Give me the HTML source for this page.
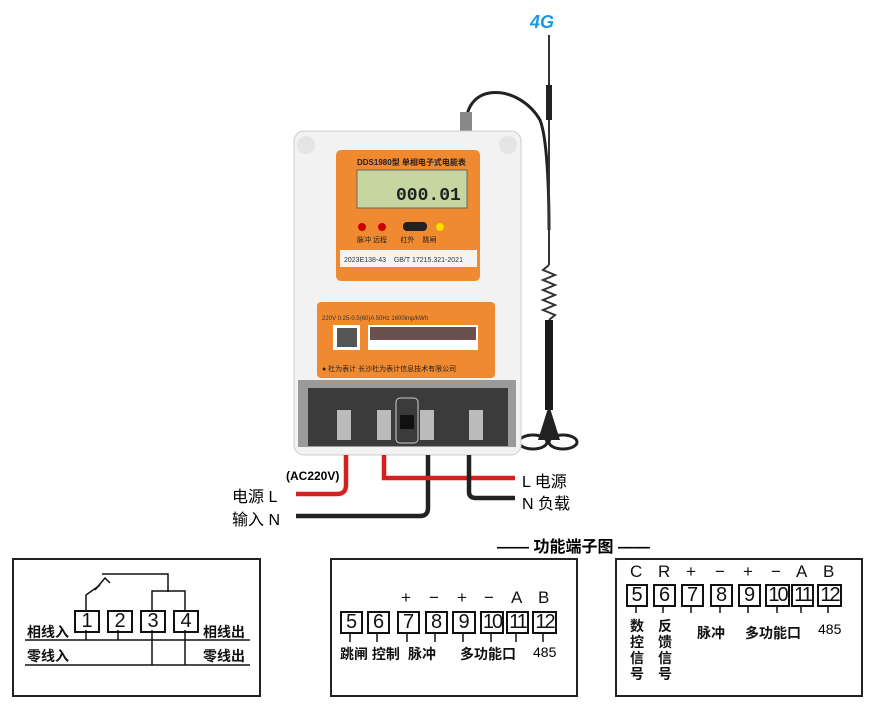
<!DOCTYPE html>
<html><head><meta charset="utf-8"><style>
body{margin:0;width:884px;height:710px;background:#fff;position:relative;overflow:hidden;font-family:"Liberation Sans","Noto Sans CJK SC",sans-serif;}
.a{position:absolute;white-space:nowrap;}
.box{position:absolute;border:2px solid #222;background:#fff;}
.t{position:absolute;border:2px solid #111;font-size:20px;line-height:19px;text-align:center;color:#111;}
.s{position:absolute;font-size:17px;color:#111;}
.l{position:absolute;font-size:14px;font-weight:bold;color:#111;}
</style></head><body>

<svg class="a" style="left:0;top:0" width="884" height="540">
 <path d="M466 125 C466 80 520 85 540 120 C548 140 549 200 549 230" stroke="#222" stroke-width="3" fill="none"/>
 <rect x="460" y="112" width="12" height="22" fill="#888"/>
 <line x1="549" y1="35" x2="549" y2="265" stroke="#333" stroke-width="2"/>
 <rect x="546" y="85" width="6" height="35" fill="#222"/>
 <path d="M549 265 l-6 5 l12 5 l-12 5 l12 5 l-12 5 l12 5 l-12 5 l12 5 l-12 5 l12 5 l-6 5" stroke="#333" stroke-width="2" fill="none"/>
 <rect x="545" y="320" width="8" height="90" fill="#1a1a1a"/>
 <path d="M549 405 L538 440 L560 440 Z" fill="#222"/>
 <ellipse cx="533" cy="442" rx="14" ry="7" stroke="#222" stroke-width="3" fill="none"/>
 <ellipse cx="563" cy="442" rx="14" ry="7" stroke="#222" stroke-width="3" fill="none"/>
 <text x="530" y="28" font-size="18" font-weight="bold" font-style="italic" fill="#1a9ae0" font-family="Liberation Sans">4G</text>
 <rect x="294" y="131" width="227" height="324" rx="10" fill="#f2f2f2" stroke="#ccc"/>
 <circle cx="306" cy="145" r="9" fill="#e4e4e4"/><circle cx="508" cy="145" r="9" fill="#e4e4e4"/>
 <rect x="336" y="150" width="144" height="131" rx="5" fill="#f08a30"/>
 <rect x="357" y="170" width="110" height="38" fill="#c5d6a0" stroke="#666"/>
 <text x="396" y="200" font-size="18" font-family="Liberation Mono" font-weight="bold" fill="#222">000.01</text>
 <text x="357" y="165" font-size="8" fill="#222" font-weight="bold">DDS1980型 单相电子式电能表</text>
 <circle cx="362" cy="227" r="4" fill="#c00"/><circle cx="382" cy="227" r="4" fill="#c00"/>
 <rect x="403" y="222" width="24" height="9" rx="4" fill="#222"/><circle cx="440" cy="227" r="4" fill="#fd0"/>
 <text x="357" y="242" font-size="7" fill="#222">脉冲 远程 &#160;&#160;&#160;&#160;&#160;&#160;红外 &#160;&#160;&#160;跳闸</text>
 <rect x="340" y="250" width="137" height="17" fill="#f4f4f4"/>
 <text x="344" y="262" font-size="7" fill="#333">2023E138-43 &#160;&#160;&#160;GB/T 17215.321-2021</text>
 <rect x="317" y="302" width="178" height="76" rx="4" fill="#f08a30"/>
 <text x="322" y="320" font-size="6" fill="#333">220V 0.25-0.5(60)A 50Hz 1600imp/kWh</text>
 <rect x="333" y="325" width="27" height="25" fill="#fff"/><rect x="337" y="328" width="20" height="19" fill="#555"/>
 <rect x="368" y="325" width="110" height="25" fill="#fff"/><rect x="370" y="327" width="106" height="13" fill="#6b5050"/>
 <text x="322" y="371" font-size="7" fill="#222">● 杜为表计 长沙杜为表计信息技术有限公司</text>
 <rect x="298" y="380" width="218" height="67" fill="#9a9a9a"/>
 <rect x="308" y="388" width="200" height="58" fill="#3b3b3b"/>
 <g fill="#bbb"><rect x="337" y="410" width="14" height="30"/><rect x="377" y="410" width="14" height="30"/><rect x="420" y="410" width="14" height="30"/><rect x="469" y="410" width="14" height="30"/></g>
 <rect x="396" y="398" width="22" height="45" rx="4" fill="none" stroke="#ccc"/><rect x="400" y="415" width="14" height="14" fill="#111"/>
 <path d="M346 455 V485 Q346 494 337 494 H296" stroke="#d42020" stroke-width="4.5" fill="none"/>
 <path d="M428 455 V508 Q428 516 420 516 H296" stroke="#222" stroke-width="4.5" fill="none"/>
 <path d="M384 455 V478 H515" stroke="#d42020" stroke-width="4.5" fill="none"/>
 <path d="M469 455 V492 Q469 498 476 498 H515" stroke="#222" stroke-width="4.5" fill="none"/>
</svg>
<div class="a" style="left:286px;top:469px;font-size:12px;font-weight:bold">(AC220V)</div>
<div class="a" style="left:232px;top:483px;font-size:16px">电源 L</div>
<div class="a" style="left:232px;top:506px;font-size:16px">输入 N</div>
<div class="a" style="left:522px;top:468px;font-size:16px">L 电源</div>
<div class="a" style="left:522px;top:490px;font-size:16px">N 负载</div>
<div class="a" style="left:497px;top:533px;font-size:16px;font-weight:bold">—— 功能端子图 ——</div>

<div class="box" style="left:12px;top:558px;width:245px;height:135px"></div>
<svg class="a" style="left:0;top:550px" width="260" height="160">
 <g stroke="#111" stroke-width="1.5" fill="none">
 <line x1="25" y1="90" x2="250" y2="90"/><line x1="25" y1="115" x2="250" y2="115"/>
 <polyline points="86,80 86,90"/><polyline points="118,80 118,90"/>
 <polyline points="152,80 152,115"/><polyline points="185,80 185,115"/>
 <polyline points="86,60 86,45 100,35"/><polyline points="95,40 105,28 110,33"/>
 <polyline points="102,24 168,24 168,42"/><polyline points="152,60 152,41 185,41 185,60"/>
 </g>
</svg>
<div class="t" style="left:74px;top:610px;width:22px">1</div>
<div class="t" style="left:107px;top:610px;width:22px">2</div>
<div class="t" style="left:140px;top:610px;width:22px">3</div>
<div class="t" style="left:173px;top:610px;width:22px">4</div>
<div class="l" style="left:27px;top:622px">相线入</div>
<div class="l" style="left:27px;top:646px">零线入</div>
<div class="l" style="left:203px;top:622px">相线出</div>
<div class="l" style="left:203px;top:646px">零线出</div>

<div class="box" style="left:330px;top:558px;width:244px;height:135px"></div>
<div class="t" style="left:340px;top:611px;width:19px">5</div>
<div class="t" style="left:367px;top:611px;width:19px">6</div>
<div class="t" style="left:397px;top:611px;width:19px">7</div>
<div class="t" style="left:425px;top:611px;width:19px">8</div>
<div class="t" style="left:452px;top:611px;width:20px">9</div>
<div class="t" style="left:480px;top:611px;width:20px;letter-spacing:-2px">10</div>
<div class="t" style="left:506px;top:611px;width:19px;letter-spacing:-2px">11</div>
<div class="t" style="left:532px;top:611px;width:21px;letter-spacing:-2px">12</div>
<svg class="a" style="left:330px;top:630px" width="250" height="15"><g stroke="#111" stroke-width="1.5">
<line x1="20" y1="2" x2="20" y2="12"/><line x1="47" y1="2" x2="47" y2="12"/><line x1="77" y1="2" x2="77" y2="12"/><line x1="105" y1="2" x2="105" y2="12"/><line x1="133" y1="2" x2="133" y2="12"/><line x1="161" y1="2" x2="161" y2="12"/><line x1="186" y1="2" x2="186" y2="12"/><line x1="213" y1="2" x2="213" y2="12"/></g></svg>
<div class="s" style="left:401px;top:588px">+</div><div class="s" style="left:429px;top:588px">−</div><div class="s" style="left:457px;top:588px">+</div><div class="s" style="left:484px;top:588px">−</div><div class="s" style="left:511px;top:588px">A</div><div class="s" style="left:538px;top:588px">B</div>
<div class="l" style="left:340px;top:644px">跳闸 控制</div>
<div class="l" style="left:408px;top:644px">脉冲</div>
<div class="l" style="left:460px;top:644px">多功能口</div>
<div class="a" style="left:533px;top:644px;font-size:14px">485</div>

<div class="box" style="left:615px;top:558px;width:244px;height:135px"></div>
<div class="t" style="left:626px;top:584px;width:18px">5</div>
<div class="t" style="left:653px;top:584px;width:19px">6</div>
<div class="t" style="left:681px;top:584px;width:19px">7</div>
<div class="t" style="left:710px;top:584px;width:19px">8</div>
<div class="t" style="left:738px;top:584px;width:19px">9</div>
<div class="t" style="left:765px;top:584px;width:21px;letter-spacing:-2px">10</div>
<div class="t" style="left:791px;top:584px;width:19px;letter-spacing:-2px">11</div>
<div class="t" style="left:817px;top:584px;width:21px;letter-spacing:-2px">12</div>
<svg class="a" style="left:615px;top:603px" width="250" height="15"><g stroke="#111" stroke-width="1.5">
<line x1="21" y1="2" x2="21" y2="10"/><line x1="48" y1="2" x2="48" y2="10"/><line x1="76" y1="2" x2="76" y2="10"/><line x1="105" y1="2" x2="105" y2="10"/><line x1="133" y1="2" x2="133" y2="10"/><line x1="162" y1="2" x2="162" y2="10"/><line x1="186" y1="2" x2="186" y2="10"/><line x1="213" y1="2" x2="213" y2="10"/></g></svg>
<div class="s" style="left:630px;top:562px">C</div><div class="s" style="left:658px;top:562px">R</div><div class="s" style="left:686px;top:562px">+</div><div class="s" style="left:715px;top:562px">−</div><div class="s" style="left:743px;top:562px">+</div><div class="s" style="left:771px;top:562px">−</div><div class="s" style="left:796px;top:562px">A</div><div class="s" style="left:823px;top:562px">B</div>
<div class="l" style="left:630px;top:618px;width:15px;white-space:normal;line-height:16px">数控信号</div>
<div class="l" style="left:658px;top:618px;width:15px;white-space:normal;line-height:16px">反馈信号</div>
<div class="l" style="left:697px;top:623px">脉冲</div>
<div class="l" style="left:745px;top:623px">多功能口</div>
<div class="a" style="left:818px;top:621px;font-size:14px">485</div>
</body></html>
